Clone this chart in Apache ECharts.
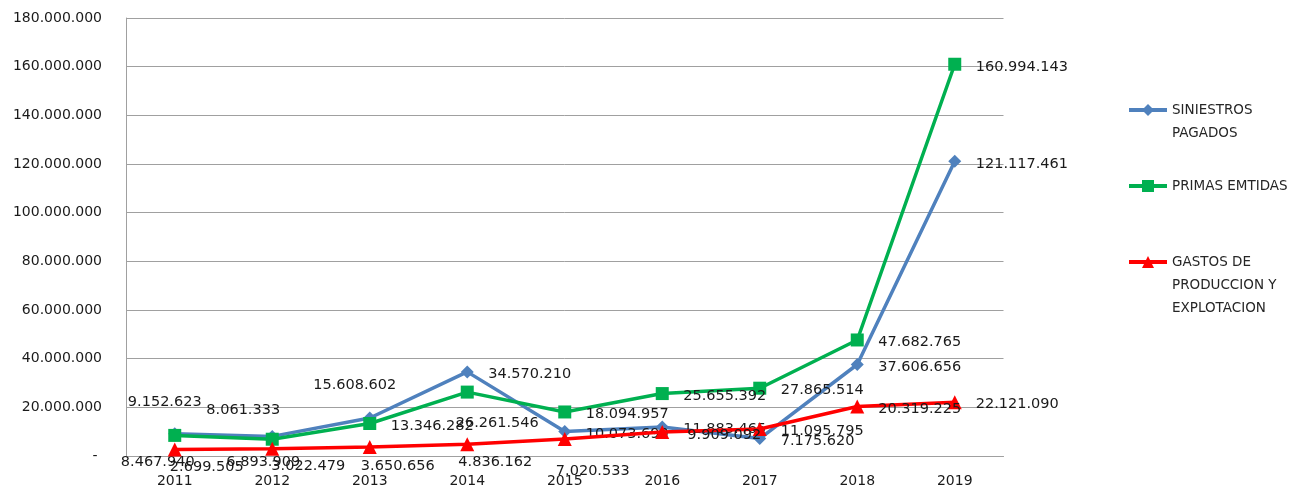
<!DOCTYPE html>
<html>
<head>
    <meta charset="UTF-8">
    <title>Siniestros, primas y gastos 2011-2019</title>
    <script type="text/javascript" src="https://cdn.jsdelivr.net/npm/echarts@6/dist/echarts.min.js"></script>
</head>
<body style="margin: 0;overflow: hidden;background: #fff;">
<div id="chart" style="width: 1303px;height: 496px"></div>
<script type="text/javascript">
    var years = ['2011', '2012', '2013', '2014', '2015', '2016', '2017', '2018', '2019'];
    var siniestrosPagados = [9152623, 8061333, 15608602, 34570210, 10073690, 11883465, 7175620, 37606656, 121117461];
    var primasEmitidas = [8467940, 6893909, 13346282, 26261546, 18094957, 25655392, 27865514, 47682765, 160994143];
    var gastosProduccion = [2699505, 3022479, 3650656, 4836162, 7020533, 9909092, 11095795, 20319225, 22121090];
    var yMin = 0;
    var yMax = 180000000;
    var yStep = 20000000;

    var names = ['SINIESTROS PAGADOS', 'PRIMAS EMTIDAS', 'GASTOS DE PRODUCCION Y EXPLOTACION'];
    // leading blank lines keep the first text line level with the legend icon
    var legendText = {
        'SINIESTROS PAGADOS': ' \nSINIESTROS\nPAGADOS',
        'PRIMAS EMTIDAS': 'PRIMAS EMTIDAS',
        'GASTOS DE PRODUCCION Y EXPLOTACION': ' \n \nGASTOS DE\nPRODUCCION Y\nEXPLOTACION'
    };

    function fmt(v) {
        if (v === 0) {
            return '- ';
        }
        return String(v).replace(/\B(?=(\d{3})+(?!\d))/g, '.');
    }

    // label centre offsets for labels moved by hand, null = right of the point
    var blueShift = [[-10, -31], [-29, -26], [-15, -33], null, null, null, null, null, null];
    var greenShift = [[-17, 27], [-9, 23], null, [30, 31], null, null, null, null, null];
    var redShift = [[32, 18], [36, 18], [28, 19], [28, 18], [28, 32], [62, 3], null, null, null];

    function makeData(values, shifts) {
        return values.map(function (v, i) {
            var s = shifts[i];
            return {
                value: v,
                label: s ? {align: 'center', offset: s} : {align: 'left', offset: [21, 2.5]}
            };
        });
    }

    var labelStyle = {
        show: true,
        position: 'inside',
        color: '#1a1a1a',
        fontFamily: 'DejaVu Sans',
        fontSize: 14.5,
        formatter: function (p) {
            return fmt(p.value);
        }
    };

    function legendFor(name, top) {
        return {
            data: [{name: name}],
            left: 1127,
            top: top,
            padding: 0,
            itemWidth: 38,
            itemHeight: 15,
            selectedMode: false,
            lineStyle: {width: 4},
            formatter: function (n) {
                return legendText[n];
            },
            textStyle: {
                color: '#262626',
                fontFamily: 'DejaVu Sans',
                fontSize: 13.5,
                lineHeight: 23
            }
        };
    }

    var chart = echarts.init(document.getElementById('chart'));
    chart.setOption({
        backgroundColor: '#fff',
        animation: false,
        legend: [
            legendFor(names[0], 75.5),
            legendFor(names[1], 174.5),
            legendFor(names[2], 204.5)
        ],
        grid: {
            left: 126,
            right: 299.5,
            top: 18,
            bottom: 40
        },
        xAxis: {
            type: 'category',
            data: years,
            boundaryGap: true,
            axisLine: {lineStyle: {color: '#a0a0a0', width: 1}},
            axisTick: {show: false},
            axisLabel: {
                margin: 18,
                color: '#1a1a1a',
                fontFamily: 'DejaVu Sans',
                fontSize: 14
            }
        },
        yAxis: {
            type: 'value',
            min: yMin,
            max: yMax,
            interval: yStep,
            axisLine: {show: true, lineStyle: {color: '#a0a0a0', width: 1}},
            axisTick: {show: false},
            splitLine: {lineStyle: {color: '#a0a0a0', width: 1}},
            axisLabel: {
                margin: 24,
                color: '#1a1a1a',
                fontFamily: 'DejaVu Sans',
                fontSize: 14,
                formatter: fmt
            }
        },
        series: [{
            name: names[0],
            type: 'line',
            data: makeData(siniestrosPagados, blueShift),
            symbol: 'diamond',
            symbolSize: 13,
            color: '#4f81bd',
            lineStyle: {width: 3.5, color: '#4f81bd'},
            label: labelStyle,
            z: 2
        }, {
            name: names[1],
            type: 'line',
            data: makeData(primasEmitidas, greenShift),
            symbol: 'rect',
            symbolSize: 13,
            color: '#00b050',
            lineStyle: {width: 3.5, color: '#00b050'},
            label: labelStyle,
            z: 3
        }, {
            name: names[2],
            type: 'line',
            data: makeData(gastosProduccion, redShift),
            symbol: 'triangle',
            symbolSize: 14,
            color: '#ff0000',
            lineStyle: {width: 3.5, color: '#ff0000'},
            label: labelStyle,
            z: 4
        }]
    });
</script>
</body>
</html>
